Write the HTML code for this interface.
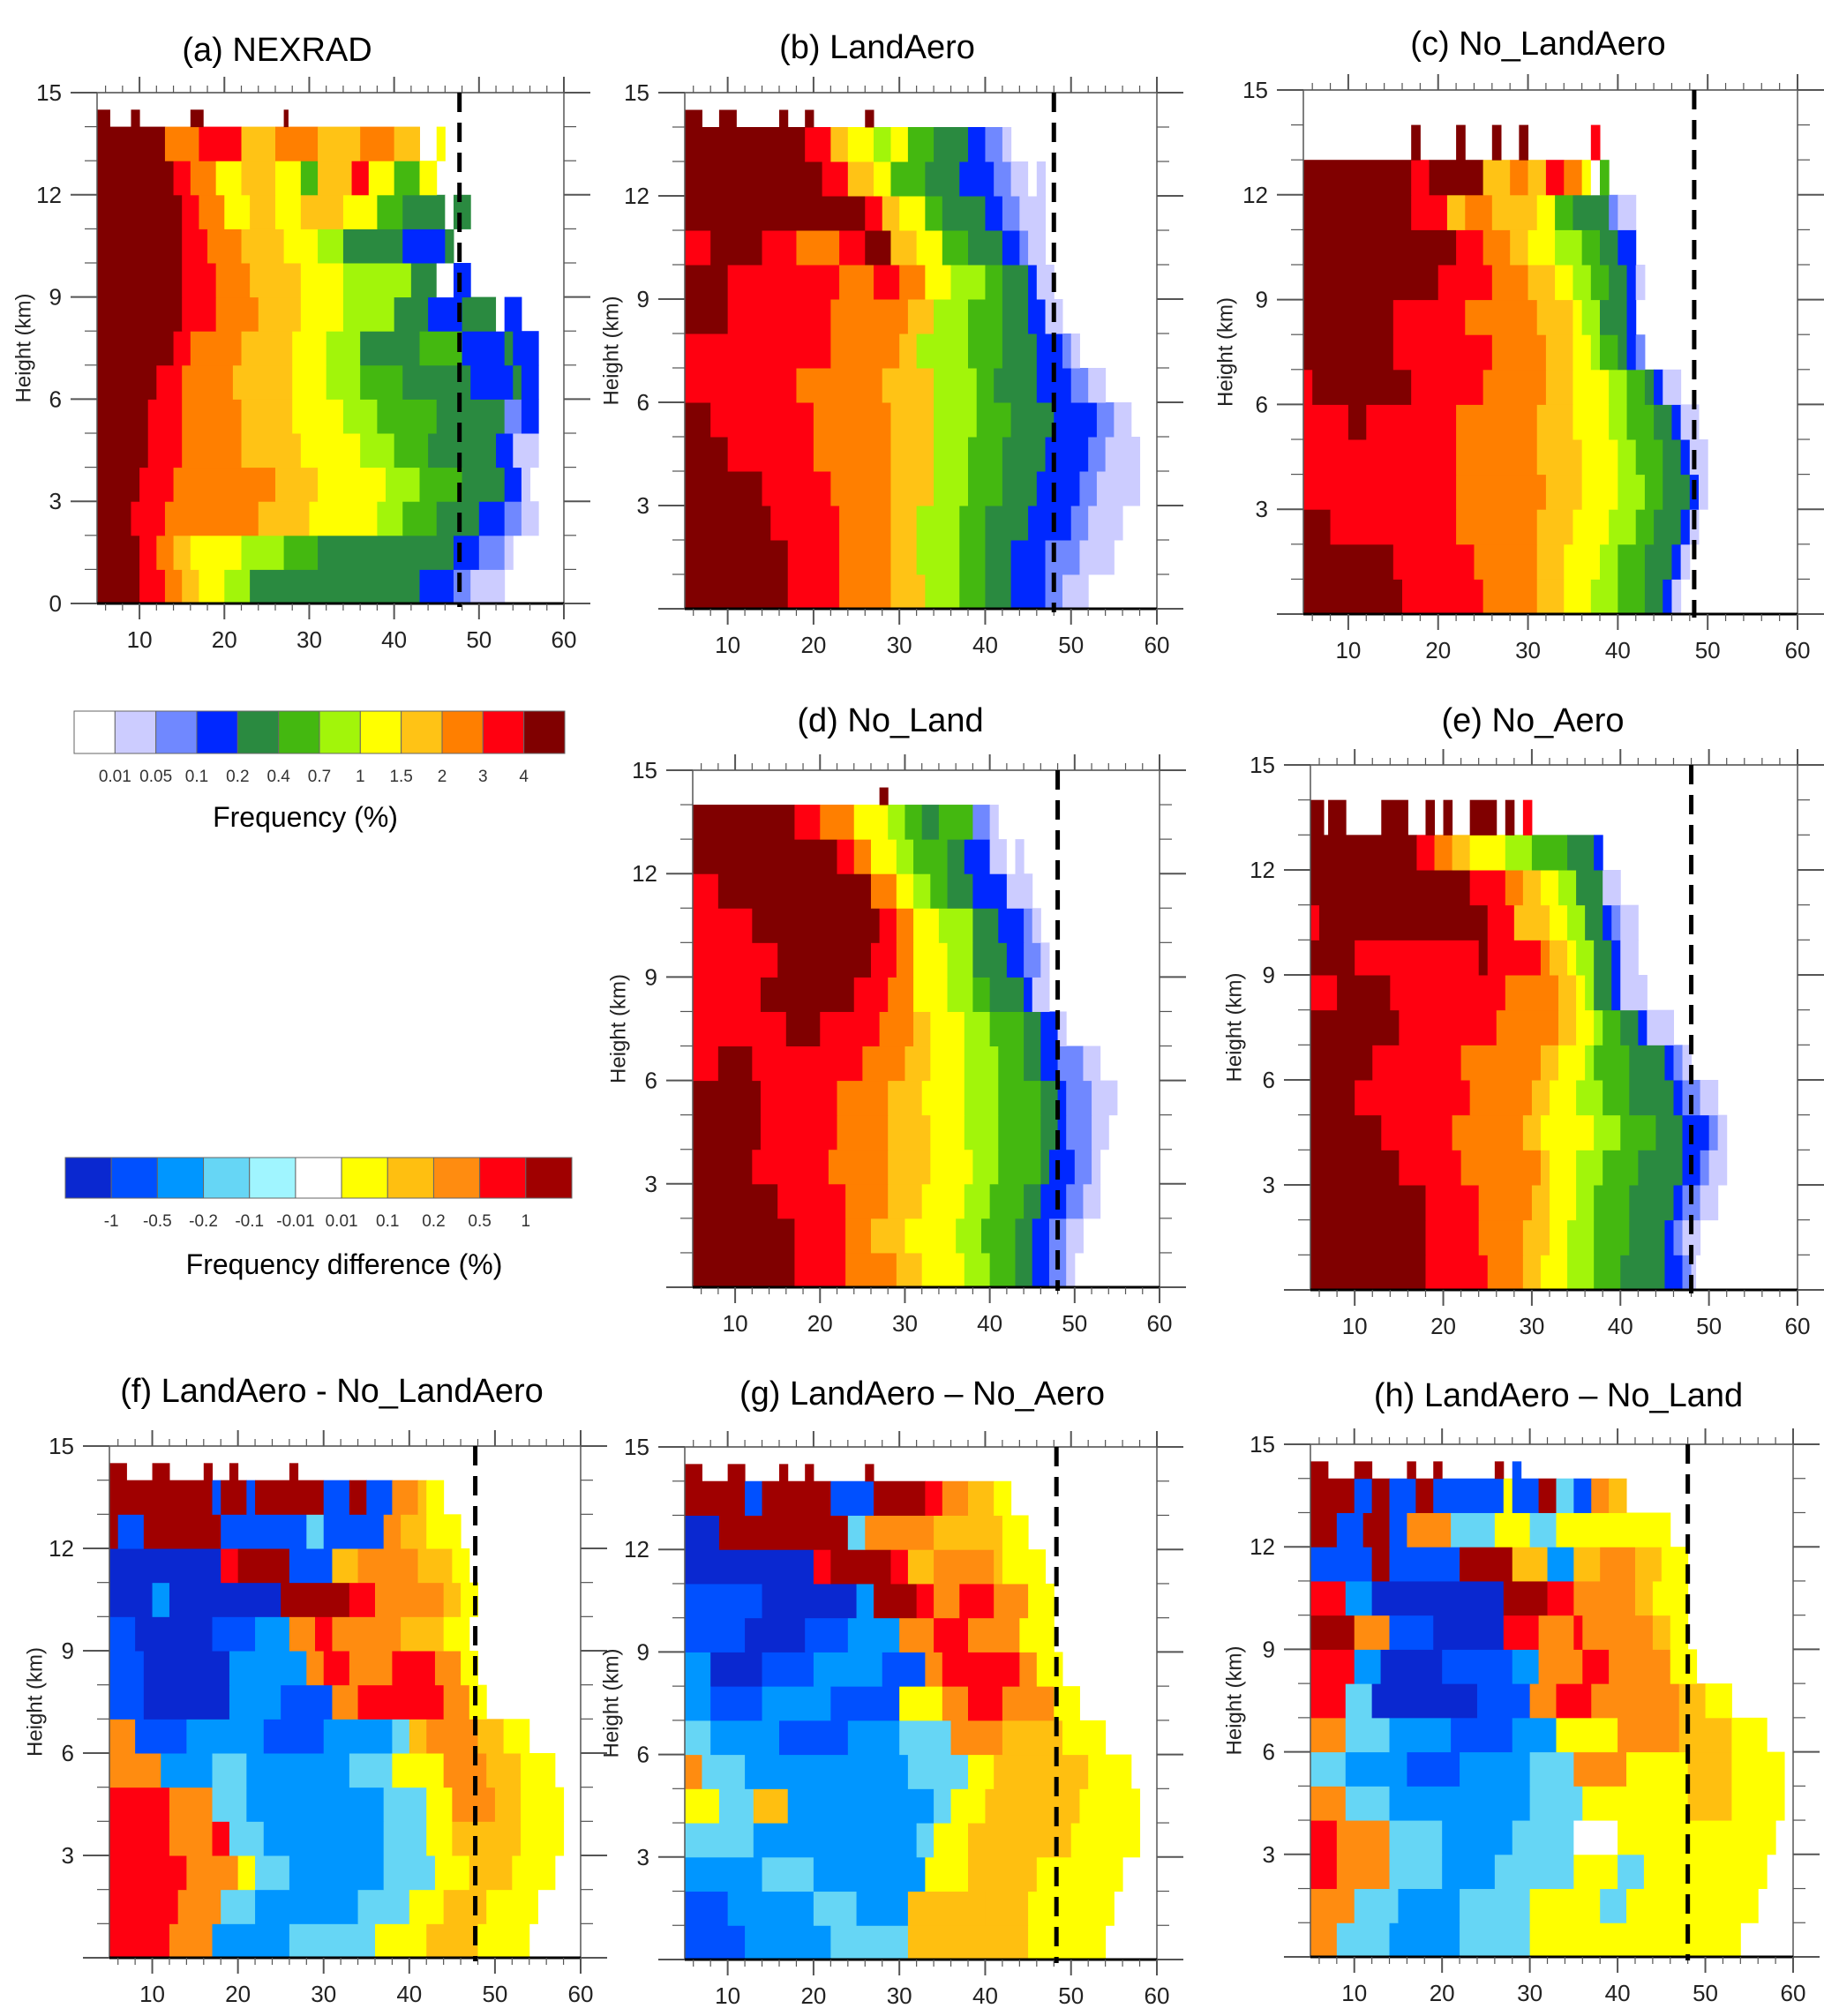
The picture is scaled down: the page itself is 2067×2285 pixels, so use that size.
<!DOCTYPE html>
<html><head><meta charset="utf-8">
<style>
html,body{margin:0;padding:0;background:#fff;}
svg{display:block;}
text{font-family:"Liberation Sans",sans-serif;}
</style></head>
<body>
<svg id="fig" width="2067" height="2285" viewBox="0 0 2067 2285" xmlns="http://www.w3.org/2000/svg"></svg>
<script>
// ---- colour scales ----
const freqColors = ["#ffffff","#ccccff","#7088ff","#0028ff","#2a8a40","#44b810","#a2f50a","#ffff00","#ffc315","#ff7f00","#ff0010","#800000"];
const freqLabels = ["0.01","0.05","0.1","0.2","0.4","0.7","1","1.5","2","3","4"];
const diffColors = ["#0a28d0","#0050ff","#0096ff","#66d6f5","#a0f5ff","#ffffff","#ffff00","#ffbf10","#ff8c10","#ff0010","#a00000"];
const diffLabels = ["-1","-0.5","-0.2","-0.1","-0.01","0.01","0.1","0.2","0.5","1"];
const xTicks = [10,20,30,40,50,60];
const yTicksFull = [0,3,6,9,12,15];
const yTicksNoZero = [3,6,9,12,15];

// ---- data: per 1-km height row (index 0 = 0-1 km), runs of [colourIndex, end dBZ] starting at 5 dBZ; -1 = empty ----
const rowsA = [
 [[11,10],[10,13],[9,15],[8,17],[7,20],[6,23],[4,43],[3,47],[2,49],[1,53]],
 [[11,10],[10,12],[9,14],[8,16],[7,22],[6,27],[5,31],[4,47],[3,50],[2,53],[1,54]],
 [[11,9],[10,13],[9,24],[8,30],[7,38],[6,41],[5,45],[4,50],[3,53],[2,55],[1,57]],
 [[11,10],[10,14],[9,26],[8,31],[7,39],[6,43],[5,48],[4,53],[3,55],[1,56]],
 [[11,11],[10,15],[9,22],[8,29],[7,36],[6,40],[5,44],[4,52],[3,54],[1,57]],
 [[11,11],[10,15],[9,22],[8,28],[7,34],[6,38],[5,45],[4,53],[2,55],[3,57]],
 [[11,12],[10,15],[9,21],[8,28],[7,32],[6,36],[5,41],[4,47],[4,49],[3,54],[4,55],[3,57]],
 [[11,14],[10,16],[9,22],[8,28],[7,32],[6,36],[4,43],[5,48],[3,53],[4,54],[3,57]],
 [[11,15],[10,19],[9,24],[8,29],[7,34],[6,40],[4,44],[3,48],[4,52],[0,53],[3,55]],
 [[11,15],[10,19],[9,23],[8,29],[7,34],[6,42],[4,45],[0,47],[3,49]],
 [[11,15],[10,18],[9,22],[8,27],[7,31],[6,34],[4,41],[3,46],[4,47]],
 [[11,15],[10,17],[9,20],[7,23],[8,26],[7,29],[8,34],[7,38],[5,41],[4,46],[0,47],[4,49]],
 [[11,14],[10,16],[9,19],[7,22],[8,26],[7,29],[5,31],[8,35],[10,37],[7,40],[5,43],[7,45]],
 [[11,13],[9,17],[10,22],[8,26],[9,31],[8,36],[9,40],[8,43],[-1,45],[7,46]],
 [[11,6.5],[-1,9],[11,10],[-1,16],[11,17.5],[-1,27],[11,27.5]]
];
const rowsB = [
 [[11,17],[10,23],[9,29],[8,33],[6,37],[5,40],[4,43],[3,47],[2,49],[1,52]],
 [[11,17],[10,23],[9,29],[8,32],[6,37],[5,40],[4,43],[3,47],[2,51],[1,55]],
 [[11,15],[10,23],[9,29],[8,32],[6,37],[5,40],[4,45],[3,50],[2,52],[1,56]],
 [[11,14],[10,22],[9,29],[8,34],[6,38],[5,42],[4,46],[3,51],[2,53],[1,58]],
 [[11,10],[10,20],[9,29],[8,34],[6,38],[5,42],[4,47],[3,52],[2,54],[1,58]],
 [[11,8],[10,20],[9,29],[8,34],[6,39],[5,43],[4,48],[3,53],[2,55],[1,57]],
 [[10,18],[9,28],[8,34],[6,39],[5,41],[4,46],[3,50],[2,52],[1,54]],
 [[10,22],[9,30],[8,32],[6,38],[5,42],[4,46],[3,49],[2,50],[1,51]],
 [[11,10],[10,22],[9,31],[8,34],[6,38],[5,42],[4,45],[3,47],[1,49]],
 [[11,10],[10,23],[9,27],[10,30],[9,33],[7,36],[6,40],[5,42],[4,45],[3,46],[1,48]],
 [[10,8],[11,14],[10,18],[9,23],[10,26],[11,29],[8,32],[7,35],[5,38],[4,42],[3,44],[2,45],[1,47]],
 [[11,26],[10,28],[8,30],[7,33],[5,35],[4,40],[3,42],[2,44],[1,47]],
 [[11,21],[10,24],[8,27],[7,29],[5,33],[4,37],[3,41],[2,43],[1,45],[0,46],[1,47]],
 [[11,19],[10,22],[8,24],[7,27],[6,29],[7,31],[5,34],[4,38],[3,40],[2,42],[1,43]],
 [[11,7],[-1,9],[11,11],[-1,16],[11,17],[-1,19],[11,20],[-1,26],[11,27]]
];
const rowsC = [
 [[11,16],[10,25],[9,31],[8,34],[7,37],[6,40],[5,43],[4,45],[3,46],[1,47]],
 [[11,15],[10,24],[9,31],[8,34],[7,38],[6,40],[5,43],[4,46],[3,47],[1,48]],
 [[11,8],[10,22],[9,31],[8,35],[7,39],[6,42],[5,44],[4,47],[3,48],[1,49]],
 [[10,22],[9,32],[8,36],[7,40],[6,43],[5,45],[4,48],[3,49],[1,50]],
 [[10,22],[9,31],[8,36],[7,40],[6,42],[5,45],[4,47],[3,48],[1,50]],
 [[10,10],[11,12],[10,22],[9,31],[8,35],[7,39],[6,41],[5,44],[4,46],[3,47],[1,49]],
 [[10,6],[11,17],[10,25],[9,32],[8,35],[7,39],[6,41],[5,43],[4,44],[3,45],[1,47]],
 [[11,15],[10,26],[9,32],[8,35],[7,37],[6,38],[5,40],[4,41],[3,42],[2,43]],
 [[11,15],[10,23],[9,31],[8,35],[7,36],[6,38],[4,41],[3,42]],
 [[11,20],[10,26],[9,30],[8,33],[7,35],[6,37],[5,39],[4,41],[3,42],[1,43]],
 [[11,22],[10,25],[9,28],[8,30],[7,33],[6,36],[5,38],[4,40],[3,42]],
 [[11,17],[10,21],[8,23],[9,26],[8,31],[7,33],[5,35],[4,39],[2,40],[1,42]],
 [[11,17],[10,19],[11,25],[8,28],[9,30],[8,32],[10,34],[9,36],[7,37],[0,38],[5,39]],
 [[-1,17],[11,18],[-1,22],[11,23],[-1,26],[11,27],[-1,29],[11,30],[-1,37],[10,38]],
 []
];
const rowsD = [
 [[11,17],[10,23],[9,29],[8,32],[7,37],[6,40],[5,43],[4,45],[3,47],[2,49],[1,50]],
 [[11,17],[10,23],[9,26],[8,30],[7,36],[6,39],[5,43],[4,45],[3,47],[2,49],[1,51]],
 [[11,15],[10,23],[9,28],[8,32],[7,37],[6,40],[5,44],[4,46],[3,49],[2,51],[1,53]],
 [[11,12],[10,21],[9,28],[8,33],[7,38],[6,41],[5,46],[4,47],[3,50],[2,52],[1,53]],
 [[11,13],[10,22],[9,28],[8,33],[7,37],[6,41],[5,46],[4,48],[3,49],[2,52],[1,54]],
 [[11,13],[10,22],[9,28],[8,32],[7,37],[6,41],[5,46],[4,48],[3,49],[2,52],[1,55]],
 [[10,8],[11,12],[10,25],[9,30],[8,33],[7,37],[6,41],[5,44],[4,46],[3,48],[2,51],[1,53]],
 [[10,16],[11,20],[10,27],[9,31],[8,33],[7,37],[6,40],[5,44],[4,46],[3,48],[1,49]],
 [[10,13],[11,24],[10,28],[9,31],[7,35],[6,38],[5,40],[4,44],[3,45],[1,47]],
 [[10,15],[11,26],[10,29],[9,31],[7,35],[6,38],[4,42],[3,44],[2,46],[1,47]],
 [[10,12],[11,27],[10,29],[9,31],[7,34],[6,38],[4,41],[3,44],[2,45],[1,46]],
 [[10,8],[11,26],[9,29],[7,31],[6,33],[5,35],[4,38],[3,42],[1,45]],
 [[11,22],[10,24],[9,26],[7,29],[6,31],[5,35],[4,37],[3,40],[1,42],[0,43],[1,44]],
 [[11,17],[10,20],[9,24],[7,28],[6,30],[5,32],[4,34],[5,38],[2,40],[1,41]],
 [[-1,27],[11,28]]
];
const rowsE = [
 [[11,18],[10,25],[9,29],[8,31],[7,34],[6,37],[5,40],[4,45],[3,47],[2,48],[1,48.5]],
 [[11,18],[10,24],[9,29],[8,32],[7,34],[6,37],[5,41],[4,45],[3,46],[2,47],[1,49]],
 [[11,18],[10,24],[9,30],[8,32],[7,35],[6,37],[5,41],[4,46],[3,47],[2,49],[1,51]],
 [[11,15],[10,22],[9,31],[8,32],[7,35],[6,38],[5,42],[4,47],[3,49],[2,50],[1,52]],
 [[11,13],[10,21],[9,29],[8,31],[7,37],[6,40],[5,44],[4,47],[3,50],[2,51],[1,52]],
 [[11,10],[10,23],[9,30],[8,32],[7,35],[6,38],[5,41],[4,46],[3,47],[2,49],[1,51]],
 [[11,12],[10,22],[9,31],[8,33],[7,36],[6,37],[5,41],[4,45],[3,46],[2,47],[1,48]],
 [[11,15],[10,26],[9,33],[8,35],[7,37],[6,38],[5,40],[4,42],[3,43],[1,46]],
 [[10,8],[11,14],[10,27],[9,33],[8,35],[7,36],[6,37],[4,39],[3,40],[1,43]],
 [[11,10],[10,24],[11,25],[10,31],[9,32],[8,34],[7,35],[6,37],[4,39],[3,40],[1,42]],
 [[10,6],[11,25],[10,28],[8,32],[7,34],[6,36],[4,38],[3,39],[2,40],[1,42]],
 [[11,23],[10,27],[9,29],[8,31],[7,33],[6,35],[4,38],[1,40]],
 [[11,17],[10,19],[9,21],[8,23],[7,27],[6,30],[5,34],[4,37],[3,38]],
 [[11,6.5],[-1,7],[11,9],[-1,13],[11,16],[-1,18],[11,19],[-1,20],[11,21],[-1,23],[11,26],[-1,27],[11,28],[-1,29],[10,30]],
 []
];
const rowsF = [
 [[9,12],[8,17],[2,26],[3,36],[6,42],[7,48],[6,54]],
 [[9,13],[8,18],[3,22],[2,34],[3,40],[6,44],[7,49],[6,55]],
 [[9,14],[8,20],[6,22],[3,26],[2,37],[3,43],[6,47],[7,52],[6,57]],
 [[9,12],[8,17],[9,19],[3,23],[2,37],[3,42],[6,45],[7,53],[6,58]],
 [[9,12],[8,17],[3,21],[2,37],[3,42],[6,45],[8,50],[7,53],[6,58]],
 [[8,11],[2,17],[3,21],[2,33],[3,38],[6,44],[8,49],[7,53],[6,57]],
 [[8,8],[1,14],[2,23],[1,30],[2,38],[3,40],[7,42],[8,48],[7,51],[6,54]],
 [[1,9],[0,19],[2,25],[1,31],[8,34],[9,44],[8,47],[6,49]],
 [[1,9],[0,19],[2,28],[8,30],[9,33],[8,38],[9,43],[8,46],[6,48]],
 [[1,8],[0,17],[1,22],[2,26],[8,29],[9,31],[8,39],[7,44],[6,47]],
 [[0,10],[2,12],[0,25],[10,33],[9,36],[8,44],[7,46],[6,48]],
 [[0,18],[9,20],[10,26],[1,31],[7,34],[8,41],[7,45],[6,47]],
 [[10,6],[1,9],[10,18],[1,28],[3,30],[1,37],[8,39],[7,42],[6,46]],
 [[10,17],[1,18],[10,21],[1,22],[10,30],[1,33],[10,35],[1,38],[8,41],[7,42],[6,44]],
 [[10,7],[-1,10],[10,12],[-1,16],[10,17],[-1,19],[10,20],[-1,26],[10,27]]
];
const rowsG = [
 [[1,12],[2,22],[3,31],[7,38],[7,45],[6,54]],
 [[1,10],[2,20],[3,25],[2,31],[7,40],[7,45],[6,55]],
 [[2,14],[3,20],[2,27],[2,33],[6,38],[7,46],[6,56]],
 [[3,13],[2,21],[2,32],[3,34],[6,38],[7,50],[6,58]],
 [[6,9],[3,13],[7,17],[2,21],[2,34],[3,36],[6,40],[7,51],[6,58]],
 [[8,7],[3,12],[2,21],[2,31],[3,38],[6,41],[7,52],[6,57]],
 [[3,8],[2,16],[1,24],[2,30],[3,36],[8,42],[7,49],[6,54]],
 [[2,8],[1,14],[2,22],[1,30],[6,35],[8,38],[9,42],[8,48],[6,51]],
 [[2,8],[0,14],[1,20],[2,28],[1,33],[8,35],[9,44],[8,46],[6,49]],
 [[1,12],[0,19],[1,24],[2,30],[8,34],[9,38],[8,44],[6,48]],
 [[1,14],[0,25],[2,27],[10,32],[9,34],[8,37],[9,41],[8,45],[6,48]],
 [[0,20],[9,22],[10,29],[9,31],[7,34],[8,41],[7,42],[6,47]],
 [[0,9],[10,24],[3,26],[8,34],[7,42],[6,45]],
 [[10,12],[1,14],[10,22],[1,27],[10,33],[9,35],[8,38],[7,41],[6,43]],
 [[10,7],[-1,10],[10,12],[-1,16],[10,17],[-1,19],[10,20],[-1,26],[10,27]]
];
const rowsH = [
 [[8,8],[3,14],[2,22],[3,30],[6,37],[6,54]],
 [[8,10],[3,15],[2,22],[3,30],[6,38],[3,41],[6,56]],
 [[9,8],[8,14],[3,20],[2,26],[3,35],[6,40],[3,43],[6,57]],
 [[9,8],[8,14],[3,20],[2,28],[3,35],[5,40],[6,45],[6,58]],
 [[8,9],[3,14],[2,21],[2,30],[3,36],[6,42],[6,48],[7,53],[6,59]],
 [[3,9],[2,16],[1,22],[2,30],[3,35],[8,41],[6,48],[7,53],[6,59]],
 [[8,9],[3,14],[2,21],[1,28],[2,33],[6,40],[8,47],[7,53],[6,57]],
 [[9,9],[3,12],[0,24],[1,30],[8,33],[9,37],[8,47],[7,50],[6,53]],
 [[9,10],[2,13],[0,20],[1,28],[2,31],[8,36],[9,39],[8,46],[6,49]],
 [[10,10],[8,14],[1,19],[0,27],[9,31],[8,35],[9,36],[8,44],[7,46],[6,48]],
 [[9,9],[2,12],[0,27],[10,32],[9,35],[8,42],[7,44],[6,48]],
 [[1,12],[10,14],[1,22],[10,28],[7,32],[2,35],[7,38],[8,42],[7,45],[6,48]],
 [[10,8],[1,11],[10,14],[1,16],[8,21],[3,26],[6,30],[3,33],[6,46]],
 [[10,10],[1,12],[10,14],[1,17],[10,19],[1,27],[6,28],[1,31],[10,33],[3,35],[1,37],[8,39],[7,41]],
 [[10,7],[-1,10],[10,12],[-1,16],[10,17],[-1,19],[10,20],[-1,26],[10,27],[-1,28],[1,29]]
];
const dashedDbz = [47.7,48,48.5,48,48,47.7,48.3,48];
const panelTitles = ["(a) NEXRAD","(b) LandAero","(c) No_LandAero","(d) No_Land","(e) No_Aero","(f) LandAero - No_LandAero","(g) LandAero \u2013 No_Aero","(h) LandAero \u2013 No_Land"];

// ---- layout (pixels) ----
const layout = [
 {l:110,r:639,t:105,b:684,tx:314,ty:55,yt:28,rows:rowsA,pal:freqColors,yt0:true,name:"nexrad"},
 {l:776,r:1311,t:105,b:690,tx:994,ty:52,yt:694,rows:rowsB,pal:freqColors,name:"landaero"},
 {l:1477,r:2037,t:102,b:696,tx:1743,ty:48,yt:1390,rows:rowsC,pal:freqColors,name:"no-landaero"},
 {l:785,r:1314,t:873,b:1459,tx:1009,ty:815,yt:702,rows:rowsD,pal:freqColors,name:"no-land"},
 {l:1485,r:2037,t:867,b:1462,tx:1737,ty:815,yt:1400,rows:rowsE,pal:freqColors,name:"no-aero"},
 {l:124,r:658,t:1639,b:2219,tx:376,ty:1575,yt:41,rows:rowsF,pal:diffColors,name:"diff-landaero-no-landaero"},
 {l:776,r:1311,t:1640,b:2221,tx:1045,ty:1578,yt:694,rows:rowsG,pal:diffColors,name:"diff-landaero-no-aero"},
 {l:1485,r:2032,t:1637,b:2218,tx:1766,ty:1580,yt:1400,rows:rowsH,pal:diffColors,name:"diff-landaero-no-land"}
];

const NS="http://www.w3.org/2000/svg";
const svg=document.getElementById('fig');
function mk(tag,attrs,parent){const e=document.createElementNS(NS,tag);for(const k in attrs)e.setAttribute(k,attrs[k]);(parent||svg).appendChild(e);return e;}

layout.forEach((p,i)=>{
  const g=mk('g',{});
  
  
  const xs=v=>p.l+(v-5)*(p.r-p.l)/55;
  const ys=v=>p.b-v*(p.b-p.t)/15;
  // cells
  p.rows.forEach((row,ri)=>{
    let x0=5;
    row.forEach(run=>{
      const ci=run[0], x1=run[1];
      if(ci>=0){
        const top = ri===14 ? ys(14.5) : ys(ri+1);
        const bot = (ri===13 && p.rows[14].length===0 && i>=2 && i<=4) ? ys(ri) : ys(ri);
        const rc=mk('rect',{x:xs(x0),y:top,width:Math.max(0,xs(x1)-xs(x0))+0.5,height:bot-top+0.5,fill:p.pal[ci]},g);
        
        
      }
      x0=x1;
    });
  });
  // frame
  const fr=mk('rect',{x:p.l,y:p.t,width:p.r-p.l,height:p.b-p.t,fill:'none',stroke:'#555','stroke-width':1.5},g);
  
  
  mk('line',{x1:p.l,x2:p.r,y1:p.b,y2:p.b,stroke:'#000','stroke-width':3},g);
  mk('line',{x1:p.l-30,x2:p.r+30,y1:p.t,y2:p.t,stroke:'#666','stroke-width':1.5},g);
  // ticks
  for(let v=6; v<=60; v+=2){
    const x=xs(v), major=(v%10===0);
    const len=major?18:8;
    mk('line',{x1:x,x2:x,y1:p.b,y2:p.b+len,stroke:'#555','stroke-width':major?2:1.2},g);
    mk('line',{x1:x,x2:x,y1:p.t,y2:p.t-len,stroke:'#555','stroke-width':major?2:1.2},g);
  }
  for(let v=0; v<=15; v++){
    const y=ys(v), major=(v%3===0);
    const len=major?30:14;
    mk('line',{x1:p.l-len,x2:p.l,y1:y,y2:y,stroke:'#555','stroke-width':major?2:1.2},g);
    mk('line',{x1:p.r,x2:p.r+len,y1:y,y2:y,stroke:'#555','stroke-width':major?2:1.2},g);
  }
  xTicks.forEach(v=>{
    const t=mk('text',{x:xs(v),y:p.b+50,'font-size':26,'text-anchor':'middle',fill:'#222'},g);
    t.textContent=v;
    
    
  });
  (p.yt0?yTicksFull:yTicksNoZero).forEach(v=>{
    const t=mk('text',{x:p.l-40,y:ys(v)+9,'font-size':26,'text-anchor':'end',fill:'#222'},g);
    t.textContent=v;
    
    
  });
  // y title
  const cy=(p.t+p.b)/2;
  const yt=mk('text',{x:p.yt,y:cy,'font-size':24,'text-anchor':'middle',fill:'#222',transform:`rotate(-90 ${p.yt} ${cy})`,'dominant-baseline':'middle'},g);
  yt.textContent='Height (km)';
  
  
  // dashed line
  const dl=mk('line',{x1:xs(dashedDbz[i]),x2:xs(dashedDbz[i]),y1:p.t,y2:p.b+4,stroke:'#000','stroke-width':5,'stroke-dasharray':'22 12'},g);
  
  
  // title
  const tt=mk('text',{x:p.tx,y:p.ty+14,'font-size':38,'text-anchor':'middle',fill:'#000'},g);
  tt.textContent=panelTitles[i];
  
  
});

// ---- colour bars ----
function colorbar(x0,x1,y0,y1,cols,labels,ly,title,tx,ty,name){
  const g=mk('g',{});
  
  
  const w=(x1-x0)/cols.length;
  cols.forEach((c,k)=>{
    const r=mk('rect',{x:x0+k*w,y:y0,width:w,height:y1-y0,fill:c,stroke:'#666','stroke-width':1},g);
    
    
  });
  labels.forEach((s,k)=>{
    const t=mk('text',{x:x0+(k+1)*w,y:ly,'font-size':19,'text-anchor':'middle',fill:'#333'},g);
    t.textContent=s;
    
    
  });
  const t=mk('text',{x:tx,y:ty,'font-size':32,'text-anchor':'middle',fill:'#000'},g);
  t.textContent=title;
  
  
}
colorbar(84,640,806,854,freqColors,freqLabels,886,'Frequency (%)',346,937,'frequency-colorbar');
colorbar(74,648,1312,1358,diffColors,diffLabels,1390,'Frequency difference (%)',390,1444,'difference-colorbar');
</script>
</body></html>
